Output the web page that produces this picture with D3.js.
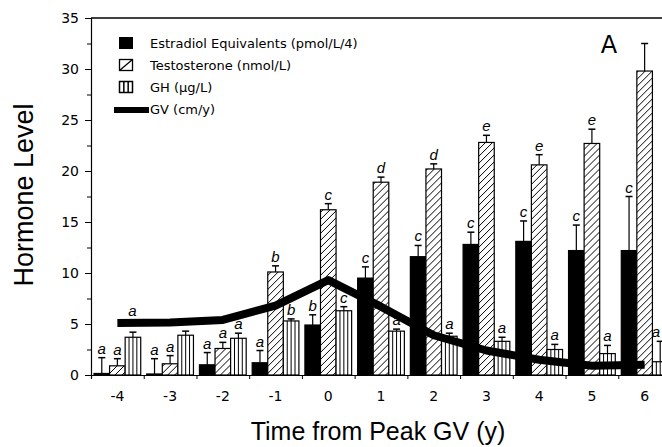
<!DOCTYPE html>
<html>
<head>
<meta charset="utf-8">
<script src="https://cdn.jsdelivr.net/npm/d3@7"></script>
<style>
  body { margin: 0; background: #fff; }
  svg { display: block; }
  .tick text { font-family: "DejaVu Sans", sans-serif; font-size: 14px; fill: #000; }
  .letter { font-family: "Liberation Sans", sans-serif; font-style: italic; font-size: 15px; }
  .legend text { font-family: "DejaVu Sans", sans-serif; font-size: 13px; }
</style>
</head>
<body>
<div id="chart"></div>
<script>
const years = [-4, -3, -2, -1, 0, 1, 2, 3, 4, 5, 6];

const estradiol    = [0.15, 0.1, 1.0, 1.2, 4.9, 9.5, 11.6, 12.8, 13.1, 12.2, 12.2];
const estradiolTop = [1.7, 1.6, 2.2, 2.4, 5.9, 10.6, 12.7, 14.0, 15.1, 14.7, 17.5];
const estradiolSig = ['a', 'a', 'a', 'a', 'b', 'c', 'c', 'c', 'c', 'c', 'c'];

const testosterone    = [0.9, 1.1, 2.6, 10.1, 16.2, 18.9, 20.2, 22.8, 20.6, 22.7, 29.8];
const testosteroneTop = [1.6, 1.9, 3.2, 10.7, 16.8, 19.4, 20.7, 23.5, 21.6, 24.1, 32.5];
const testosteroneSig = ['a', 'a', 'a', 'b', 'c', 'd', 'd', 'e', 'e', 'e', ''];

const gh    = [3.7, 3.9, 3.6, 5.3, 6.3, 4.3, 3.8, 3.3, 2.5, 2.1, 1.3];
const ghTop = [4.2, 4.3, 4.1, 5.5, 6.7, 4.5, 4.1, 3.7, 3.0, 2.9, 3.3];
const ghSig = ['', '', 'a', 'b', 'c', 'a', 'a', 'a', 'a', 'a', 'a'];

const gv = [5.1, 5.15, 5.4, 6.8, 9.3, 6.7, 3.9, 2.4, 1.5, 0.9, 1.0];

const seriesNames = ['estradiol', 'testosterone', 'gh'];
const legendLabels = ['Estradiol Equivalents (pmol/L/4)', 'Testosterone (nmol/L)', 'GH (\u00b5g/L)', 'GV (cm/y)'];
const yTicks = [0, 5, 10, 15, 20, 25, 30, 35];

const width = 662, height = 447;
const margin = { top: 18, left: 91, bottom: 375 };
const plotRight = 671;

const svg = d3.select('#chart').append('svg')
    .attr('width', width)
    .attr('height', height);

const defs = svg.append('defs');
const hatch = defs.append('pattern')
    .attr('id', 'hatch')
    .attr('patternUnits', 'userSpaceOnUse')
    .attr('width', 7)
    .attr('height', 7);
hatch.append('rect').attr('width', 7).attr('height', 7).attr('fill', '#fff');
hatch.append('path')
    .attr('d', 'M0,7 L7,0 M-1,1 L1,-1 M6,8 L8,6')
    .attr('stroke', '#000')
    .attr('stroke-width', 1);

const x = d3.scaleBand()
    .domain(years)
    .range([margin.left, plotRight]);

const xInner = d3.scaleBand()
    .domain(seriesNames)
    .range([3, x.bandwidth() - 3]);

const xEdge = d3.scaleLinear()
    .domain([-4.5, 6.5])
    .range([margin.left, plotRight]);

const y = d3.scaleLinear()
    .domain([0, 35])
    .range([margin.bottom, margin.top]);

// frame
svg.append('line')
    .attr('x1', margin.left).attr('x2', width)
    .attr('y1', margin.top).attr('y2', margin.top)
    .attr('stroke', '#000').attr('stroke-width', 1.5);

// y axis
svg.append('g')
    .attr('transform', `translate(${margin.left},0)`)
    .call(d3.axisLeft(y).tickValues(d3.range(2.5, 35, 5)).tickSize(4).tickFormat(''))
    .call(g => g.select('.domain').remove());

svg.append('g')
    .attr('transform', `translate(${margin.left},0)`)
    .call(d3.axisLeft(y).tickValues(yTicks).tickSize(6).tickPadding(6))
    .call(g => g.select('.domain').attr('stroke-width', 1.2));

// x axis
svg.append('g')
    .attr('transform', `translate(0,${margin.bottom})`)
    .call(d3.axisBottom(xEdge).tickValues(d3.range(-4.5, 7, 1)).tickSize(4).tickFormat(''))
    .call(g => g.select('.domain').attr('stroke-width', 1.2));

svg.append('g')
    .attr('transform', `translate(0,${margin.bottom})`)
    .call(d3.axisBottom(x).tickSize(0).tickPadding(16).tickFormat(d => d < 0 ? '-' + Math.abs(d) : d))
    .call(g => g.select('.domain').remove());

// bars
const rows = years.map((yr, i) => ({
    year: yr,
    bars: [
        { key: 'estradiol', v: estradiol[i], top: estradiolTop[i], sig: estradiolSig[i] },
        { key: 'testosterone', v: testosterone[i], top: testosteroneTop[i], sig: testosteroneSig[i] },
        { key: 'gh', v: gh[i], top: ghTop[i], sig: ghSig[i] }
    ]
}));

const fillFor = { estradiol: '#000', testosterone: 'url(#hatch)', gh: '#fff' };

const groups = svg.append('g').selectAll('g')
    .data(rows)
    .join('g')
    .attr('transform', d => `translate(${x(d.year)},0)`);

const bar = groups.selectAll('g.bar')
    .data(d => d.bars)
    .join('g')
    .attr('class', 'bar');

const bw = xInner.bandwidth();

// error bars
bar.append('line')
    .attr('x1', d => xInner(d.key) + bw / 2)
    .attr('x2', d => xInner(d.key) + bw / 2)
    .attr('y1', d => y(d.v))
    .attr('y2', d => y(d.top))
    .attr('stroke', '#000').attr('stroke-width', 1.2);
bar.append('line')
    .attr('x1', d => xInner(d.key) + bw / 2 - 3.5)
    .attr('x2', d => xInner(d.key) + bw / 2 + 3.5)
    .attr('y1', d => y(d.top))
    .attr('y2', d => y(d.top))
    .attr('stroke', '#000').attr('stroke-width', 1.5);

bar.append('rect')
    .attr('x', d => xInner(d.key))
    .attr('y', d => y(d.v))
    .attr('width', bw)
    .attr('height', d => y(0) - y(d.v))
    .attr('fill', d => fillFor[d.key])
    .attr('stroke', '#000')
    .attr('stroke-width', 1.2);

// GH stripes
bar.filter(d => d.key === 'gh')
    .selectAll('line.stripe')
    .data(d => [1, 2, 3].map(k => ({ d, k })))
    .join('line')
    .attr('class', 'stripe')
    .attr('x1', e => xInner('gh') + bw * e.k / 4)
    .attr('x2', e => xInner('gh') + bw * e.k / 4)
    .attr('y1', e => y(e.d.v))
    .attr('y2', y(0))
    .attr('stroke', '#000').attr('stroke-width', 1);

// significance letters (kept inside the visible area at the right edge)
bar.filter(d => d.sig)
    .append('text')
    .attr('class', 'letter')
    .attr('x', function(d) {
        const gx = x(d3.select(this.parentNode.parentNode).datum().year);
        const cx = xInner(d.key) + bw / 2;
        return Math.min(cx, width - 6 - gx);
    })
    .attr('y', d => y(d.top) - 4)
    .attr('text-anchor', 'middle')
    .text(d => d.sig);

// GV line
const line = d3.line()
    .x((d, i) => x(years[i]) + x.bandwidth() / 2)
    .y(d => y(d));

svg.append('path')
    .datum(gv)
    .attr('d', line)
    .attr('fill', 'none')
    .attr('stroke', '#000')
    .attr('stroke-width', 8)
    .attr('stroke-linejoin', 'round');

svg.append('text')
    .attr('class', 'letter')
    .attr('x', x(years[0]) + x.bandwidth() / 2 + 15)
    .attr('y', y(gv[0]) - 7)
    .attr('text-anchor', 'middle')
    .text('a');

// legend
const legend = svg.append('g').attr('class', 'legend')
    .attr('transform', 'translate(119,37)');

const lgRow = i => i * 22;

legend.append('rect')
    .attr('x', 0).attr('y', lgRow(0)).attr('width', 14).attr('height', 12)
    .attr('fill', '#000');
legend.append('rect')
    .attr('x', 0.5).attr('y', lgRow(1) + 0.5).attr('width', 13).attr('height', 11)
    .attr('fill', '#fff').attr('stroke', '#000').attr('stroke-width', 1.3);
legend.append('line')
    .attr('x1', 0.5).attr('y1', lgRow(1) + 11.5).attr('x2', 13.5).attr('y2', lgRow(1) + 0.5)
    .attr('stroke', '#000').attr('stroke-width', 1.3);
legend.append('rect')
    .attr('x', 0.5).attr('y', lgRow(2) + 0.5).attr('width', 13).attr('height', 11)
    .attr('fill', '#fff').attr('stroke', '#000').attr('stroke-width', 1.5);
legend.selectAll('line.gs')
    .data([1, 2])
    .join('line')
    .attr('class', 'gs')
    .attr('x1', k => 0.5 + 13 * k / 3).attr('x2', k => 0.5 + 13 * k / 3)
    .attr('y1', lgRow(2)).attr('y2', lgRow(2) + 12)
    .attr('stroke', '#000').attr('stroke-width', 1.5);
legend.append('line')
    .attr('x1', -5).attr('x2', 30)
    .attr('y1', lgRow(3) + 7).attr('y2', lgRow(3) + 7)
    .attr('stroke', '#000').attr('stroke-width', 6);

legend.selectAll('text')
    .data(legendLabels)
    .join('text')
    .attr('x', 31)
    .attr('y', (d, i) => lgRow(i) + 11)
    .text(d => d);

// panel letter
svg.append('text')
    .attr('x', 609).attr('y', 53)
    .attr('text-anchor', 'middle')
    .style('font-family', '"DejaVu Sans", sans-serif')
    .style('font-size', '24px')
    .text('A');

// axis titles
svg.append('text')
    .attr('transform', 'translate(33,195) rotate(-90)')
    .attr('text-anchor', 'middle')
    .style('font-family', '"Liberation Sans", sans-serif')
    .style('font-size', '27px')
    .text('Hormone Level');

svg.append('text')
    .attr('x', 378).attr('y', 440)
    .attr('text-anchor', 'middle')
    .style('font-family', '"Liberation Sans", sans-serif')
    .style('font-size', '25px')
    .text('Time from Peak GV (y)');
</script>
</body>
</html>
